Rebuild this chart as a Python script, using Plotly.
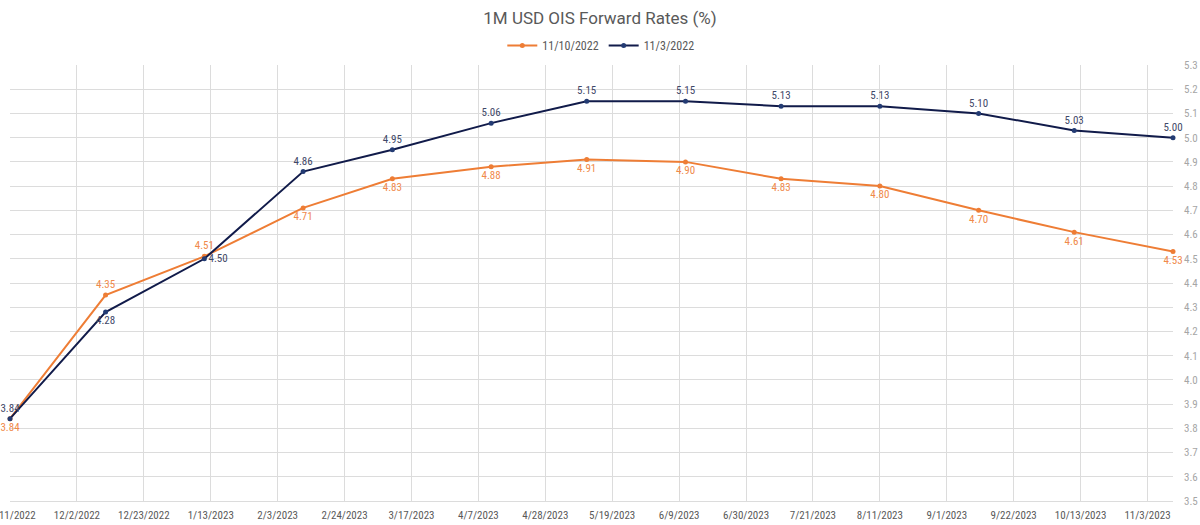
import plotly.graph_objects as go
import pandas as pd

dates = ["2022-11-11", "2022-12-11", "2023-01-11", "2023-02-11", "2023-03-11", "2023-04-11",
         "2023-05-11", "2023-06-11", "2023-07-11", "2023-08-11", "2023-09-11", "2023-10-11", "2023-11-11"]
rates_1110 = [3.84, 4.35, 4.51, 4.71, 4.83, 4.88, 4.91, 4.90, 4.83, 4.80, 4.70, 4.61, 4.53]
rates_1103 = [3.84, 4.28, 4.50, 4.86, 4.95, 5.06, 5.15, 5.15, 5.13, 5.13, 5.10, 5.03, 5.00]

pos_1110 = ["bottom center", "top center", "top center"] + ["bottom center"] * 10
pos_1103 = ["top center", "bottom center", "middle right"] + ["top center"] * 10

tick_dates = pd.date_range("2022-11-11", "2023-11-03", freq="21D")
tick_text = [f"{d.month}/{d.day}/{d.year}" for d in tick_dates]

ORANGE = "#EE7D35"
NAVY = "#111B4A"
FONT = "Liberation Sans Narrow, Roboto Condensed, Roboto"

fig = go.Figure()
fig.add_trace(go.Scatter(
    x=dates, y=rates_1110, name="11/10/2022", mode="lines+markers+text",
    line=dict(color=ORANGE, width=2), marker=dict(color=ORANGE, size=5),
    text=[f"{v:.2f}" for v in rates_1110], textposition=pos_1110,
    textfont=dict(color="#F0894A", size=11, family=FONT), cliponaxis=False,
))
fig.add_trace(go.Scatter(
    x=dates, y=rates_1103, name="11/3/2022", mode="lines+markers+text",
    line=dict(color=NAVY, width=2), marker=dict(color="#233B73", size=5),
    text=[f"{v:.2f}" for v in rates_1103], textposition=pos_1103,
    textfont=dict(color="#3F4868", size=11, family=FONT), cliponaxis=False,
))

# first date tick label sits on the left edge and is clipped by the page, as in the reference
fig.add_annotation(x=tick_dates[0], xref="x", y=0, yref="paper", yanchor="top", yshift=-6,
                   text=tick_text[0], showarrow=False,
                   font=dict(size=11, color="#595959", family=FONT))

fig.update_layout(
    width=1200, height=525,
    margin=dict(l=10, r=27, t=65, b=24),
    paper_bgcolor="white", plot_bgcolor="white",
    font=dict(family=FONT, color="#595959"),
    title=dict(text="1M USD OIS Forward Rates (%)", x=0.5, xanchor="center", y=0.965, yanchor="middle",
               font=dict(size=17, color="#595959", family="Roboto")),
    legend=dict(orientation="h", x=0.508, xanchor="center", y=1.045, yanchor="middle",
                font=dict(size=12, color="#595959", family=FONT), bgcolor="rgba(0,0,0,0)",
                itemwidth=30),
    showlegend=True,
    xaxis=dict(
        range=["2022-11-11", "2023-11-11"], tickvals=list(tick_dates), ticktext=tick_text,
        showgrid=True, gridcolor="#DCDCDC", gridwidth=1, zeroline=False,
        showline=True, linecolor="#DCDCDC", tickfont=dict(size=11, color="#595959"),
        ticks="", fixedrange=True, ticklabelstandoff=4, automargin=False,
    ),
    yaxis=dict(
        range=[3.5, 5.3], dtick=0.1, tickformat=".1f", side="right",
        showgrid=True, gridcolor="#DCDCDC", gridwidth=1, zeroline=False,
        showline=False, tickfont=dict(size=11, color="#A6A6A6"), ticks="",
        ticklabelstandoff=10, automargin=False,
    ),
)

fig.write_html("out.html")
